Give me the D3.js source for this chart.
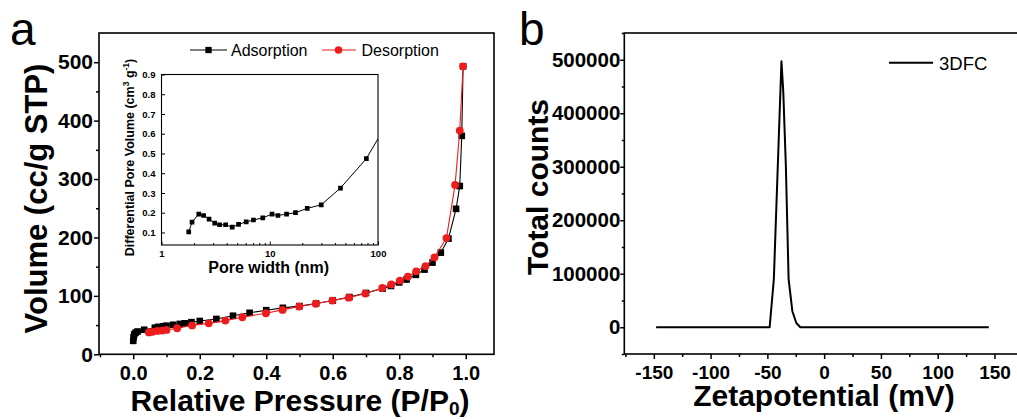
<!DOCTYPE html>
<html><head><meta charset="utf-8">
<script src="https://cdn.jsdelivr.net/npm/d3@7"></script>
<style>
body{margin:0;background:#fff;}
svg{font-family:"Liberation Sans",Arial,sans-serif;display:block;}
</style></head><body>
<svg id="c" width="1017" height="420"></svg>
<script>
// ---------- data ----------
const adsP = [0.000,0.001,0.003,0.007,0.013,0.033,0.065,0.075,0.09,0.10,0.12,0.14,0.155,0.175,0.20,0.25,0.30,0.35,0.40,0.45,0.50,0.55,0.60,0.65,0.70,0.75,0.775,0.80,0.822,0.85,0.876,0.90,0.925,0.948,0.971,0.982,0.988,0.992];
const adsV = [23,29,34,37,39,42,45.5,47,48,49,50.5,52,53,55,57,60.5,66,71,75.5,79.5,82.5,87,92,98,105,112.5,117,123,128,136,145,157,174,198,249,288,374,493];
const desP = [0.992,0.982,0.968,0.942,0.906,0.879,0.851,0.826,0.802,0.776,0.749,0.698,0.648,0.599,0.549,0.499,0.449,0.399,0.328,0.277,0.227,0.177,0.132,0.10,0.087,0.072,0.058,0.047];
const desV = [493,383,290,199,166,151,142,133,126,119.5,113.5,104,97,92,86.5,81.7,76,70.3,63.4,57.7,53,49.5,44.6,41.7,40.6,40,38.5,37.5];

const poreW = [1.785,1.915,2.21,2.45,2.75,3.10,3.44,3.91,4.50,5.15,6.06,7.07,8.62,10.5,11.9,14.3,17.3,22.2,29.9,45.0,78.1,100];
const poreV = [0.103,0.152,0.193,0.186,0.168,0.147,0.139,0.139,0.127,0.141,0.154,0.163,0.174,0.193,0.186,0.193,0.200,0.222,0.240,0.325,0.474,0.575];

const zetaX = [-148,-48,-44.3,-37.6,-36,-33.7,-31.3,-28,-24.5,-21,145];
const zetaC = [0,0,90000,497000,440000,300000,90000,30000,8000,0,0];

const isoXTicks = [0,0.2,0.4,0.6,0.8,1.0];
const isoXMinor = [-0.1,0.1,0.3,0.5,0.7,0.9];
const isoYTicks = [0,100,200,300,400,500];
const isoYMinor = [50,150,250,350,450];
const poreXTicks = [1,10,100];
const poreXMinor = [2,3,4,5,6,7,8,9,20,30,40,50,60,70,80,90];
const poreYTicks = [0.1,0.2,0.3,0.4,0.5,0.6,0.7,0.8,0.9];
const zetaXTicks = [-150,-100,-50,0,50,100,150];
const zetaXMinor = [-175,-125,-75,-25,25,75,125,175];
const zetaYTicks = [0,100000,200000,300000,400000,500000];
const zetaYMinor = [-50000,50000,150000,250000,350000,450000,550000];

const legendA = ["Adsorption","Desorption"];
const legendB = ["3DFC"];

// ---------- drawing ----------
const FONT = '"Liberation Sans", Arial, sans-serif';
const RED = "#ee1c1c";
const svg = d3.select("#c");
const plain = d => String(d);

function styleAxis(g, fs, weight, sw){
  g.select(".domain").remove();
  g.selectAll("line").attr("stroke","#000").attr("stroke-width",sw);
  g.selectAll("text").attr("font-size",fs).attr("font-weight",weight)
    .attr("font-family",FONT).attr("fill","#000");
}

// ===== Panel a =====
const xA = d3.scaleLinear().domain([-0.103,1.085]).range([99,494]);
const yA = d3.scaleLinear().domain([0,550]).range([354.3,33]);
const gA = svg.append("g");

gA.append("g").attr("transform",`translate(0,${yA.range()[0]})`)
  .call(d3.axisBottom(xA).tickValues(isoXTicks).tickSize(5).tickPadding(7).tickFormat(d3.format(".1f")))
  .call(g=>styleAxis(g,20,"bold",1.5));
gA.append("g").attr("transform",`translate(0,${yA.range()[0]})`)
  .call(d3.axisBottom(xA).tickValues(isoXMinor).tickSize(3).tickFormat(""))
  .call(g=>styleAxis(g,20,"bold",1.5));
gA.append("g").attr("transform",`translate(${xA.range()[0]},0)`)
  .call(d3.axisLeft(yA).tickValues(isoYTicks).tickSize(5).tickPadding(1).tickFormat(plain))
  .call(g=>styleAxis(g,21,"bold",1.5));
gA.append("g").attr("transform",`translate(${xA.range()[0]},0)`)
  .call(d3.axisLeft(yA).tickValues(isoYMinor).tickSize(3).tickFormat(""))
  .call(g=>styleAxis(g,21,"bold",1.5));

gA.append("rect").attr("x",xA.range()[0]).attr("y",yA.range()[1])
  .attr("width",xA.range()[1]-xA.range()[0]).attr("height",yA.range()[0]-yA.range()[1])
  .attr("fill","none").attr("stroke","#000").attr("stroke-width",1.6);

const adsData = d3.zip(adsP,adsV), desData = d3.zip(desP,desV);
const lineA = d3.line().x(d=>xA(d[0])).y(d=>yA(d[1]));
gA.append("path").attr("d",lineA(adsData)).attr("fill","none").attr("stroke","#000").attr("stroke-width",1.1);
gA.selectAll(".ads").data(adsData).join("path").attr("class","ads")
  .attr("transform",d=>`translate(${xA(d[0])},${yA(d[1])})`)
  .attr("d",d3.symbol(d3.symbolSquare,44)).attr("fill","#000");
gA.append("path").attr("d",lineA(desData)).attr("fill","none").attr("stroke",RED).attr("stroke-width",1.1);
gA.selectAll(".des").data(desData).join("circle").attr("class","des")
  .attr("cx",d=>xA(d[0])).attr("cy",d=>yA(d[1])).attr("r",3.9).attr("fill",RED);

// legend a
const legA = gA.append("g");
legA.append("line").attr("x1",190).attr("x2",227).attr("y1",50).attr("y2",50).attr("stroke","#000").attr("stroke-width",1.1);
legA.append("path").attr("transform","translate(208.5,50)").attr("d",d3.symbol(d3.symbolSquare,40)).attr("fill","#000");
legA.append("text").attr("x",231).attr("y",55.5).attr("font-size",16).text(legendA[0]);
legA.append("line").attr("x1",322).attr("x2",356).attr("y1",50).attr("y2",50).attr("stroke",RED).attr("stroke-width",1.1);
legA.append("circle").attr("cx",338.5).attr("cy",50).attr("r",3.8).attr("fill",RED);
legA.append("text").attr("x",361.5).attr("y",55.5).attr("font-size",16).text(legendA[1]);

// titles a
gA.append("text").attr("x",10).attr("y",45).attr("font-size",46).text("a");
const xtA = gA.append("text").attr("x",300).attr("y",411).attr("text-anchor","middle")
  .attr("font-size",30).attr("font-weight","bold");
xtA.append("tspan").text("Relative Pressure (P/P");
xtA.append("tspan").attr("font-size",19).attr("dy",4).text("0");
xtA.append("tspan").attr("dy",-4).text(")");
gA.append("text").attr("transform","translate(47,198.5) rotate(-90)").attr("text-anchor","middle")
  .attr("font-size",31).attr("font-weight","bold").text("Volume (cc/g STP)");

// ===== inset =====
const xI = d3.scaleLog().domain([1,100]).range([161.5,378]);
const yI = d3.scaleLinear().domain([0.0365,0.9]).range([245,74.5]);
const gI = svg.append("g");
gI.append("rect").attr("x",xI.range()[0]).attr("y",yI.range()[1])
  .attr("width",xI.range()[1]-xI.range()[0]).attr("height",yI.range()[0]-yI.range()[1])
  .attr("fill","#fff");
gI.append("g").attr("transform",`translate(0,${yI.range()[0]})`)
  .call(d3.axisBottom(xI).tickValues(poreXTicks).tickSize(-3.5).tickPadding(5.5).tickFormat(plain))
  .call(g=>styleAxis(g,9.5,"bold",1));
gI.append("g").attr("transform",`translate(0,${yI.range()[0]})`)
  .call(d3.axisBottom(xI).tickValues(poreXMinor).tickSize(-2).tickFormat(""))
  .call(g=>styleAxis(g,9.5,"bold",1));
gI.append("g").attr("transform",`translate(${xI.range()[0]},0)`)
  .call(d3.axisLeft(yI).tickValues(poreYTicks).tickSize(-3.5).tickPadding(6).tickFormat(d3.format(".1f")))
  .call(g=>styleAxis(g,9.5,"bold",1));
gI.append("rect").attr("x",xI.range()[0]).attr("y",yI.range()[1])
  .attr("width",xI.range()[1]-xI.range()[0]).attr("height",yI.range()[0]-yI.range()[1])
  .attr("fill","none").attr("stroke","#000").attr("stroke-width",1.1);
svg.append("clipPath").attr("id","clipI").append("rect")
  .attr("x",xI.range()[0]).attr("y",yI.range()[1])
  .attr("width",xI.range()[1]-xI.range()[0]).attr("height",yI.range()[0]-yI.range()[1]);
const poreData = d3.zip(poreW,poreV);
const gIc = gI.append("g").attr("clip-path","url(#clipI)");
gIc.append("path").attr("d",d3.line().x(d=>xI(d[0])).y(d=>yI(d[1]))(poreData))
  .attr("fill","none").attr("stroke","#000").attr("stroke-width",1);
gIc.selectAll(".pm").data(poreData.slice(0,-1)).join("path").attr("class","pm")
  .attr("transform",d=>`translate(${xI(d[0])},${yI(d[1])})`)
  .attr("d",d3.symbol(d3.symbolSquare,22)).attr("fill","#000");
gI.append("text").attr("x",268.7).attr("y",273).attr("text-anchor","middle")
  .attr("font-size",16).attr("font-weight","bold").text("Pore width (nm)");
const ytI = gI.append("text").attr("transform","translate(134,157.5) rotate(-90)").attr("text-anchor","middle")
  .attr("font-size",12.5).attr("font-weight","bold");
ytI.append("tspan").text("Differential Pore Volume (cm");
ytI.append("tspan").attr("font-size",8.5).attr("dy",-5).text("3");
ytI.append("tspan").attr("dy",5).text(" g");
ytI.append("tspan").attr("font-size",8.5).attr("dy",-5).text("-1");
ytI.append("tspan").attr("dy",5).text(")");

// ===== Panel b =====
const xB = d3.scaleLinear().domain([-176,176]).range([624.3,1024]);
const yB = d3.scaleLinear().domain([-50000,550000]).range([354,33]);
const gB = svg.append("g");
gB.append("g").attr("transform",`translate(0,${yB.range()[0]})`)
  .call(d3.axisBottom(xB).tickValues(zetaXTicks).tickSize(5).tickPadding(7).tickFormat(plain))
  .call(g=>styleAxis(g,19,"bold",1.5));
gB.append("g").attr("transform",`translate(0,${yB.range()[0]})`)
  .call(d3.axisBottom(xB).tickValues(zetaXMinor).tickSize(3).tickFormat(""))
  .call(g=>styleAxis(g,19,"bold",1.5));
gB.append("g").attr("transform",`translate(${xB.range()[0]},0)`)
  .call(d3.axisLeft(yB).tickValues(zetaYTicks).tickSize(4).tickPadding(0).tickFormat(plain))
  .call(g=>styleAxis(g,20.5,"bold",1.5));
gB.append("g").attr("transform",`translate(${xB.range()[0]},0)`)
  .call(d3.axisLeft(yB).tickValues(zetaYMinor).tickSize(2.5).tickFormat(""))
  .call(g=>styleAxis(g,20.5,"bold",1.5));
gB.append("rect").attr("x",xB.range()[0]).attr("y",yB.range()[1])
  .attr("width",xB.range()[1]-xB.range()[0]).attr("height",yB.range()[0]-yB.range()[1])
  .attr("fill","none").attr("stroke","#000").attr("stroke-width",1.6);
const zetaData = d3.zip(zetaX,zetaC);
gB.append("path").attr("d",d3.line().x(d=>xB(d[0])).y(d=>yB(d[1]))(zetaData))
  .attr("fill","none").attr("stroke","#000").attr("stroke-width",2).attr("stroke-linejoin","round");
gB.append("line").attr("x1",889).attr("x2",933).attr("y1",62.7).attr("y2",62.7).attr("stroke","#000").attr("stroke-width",2);
gB.append("text").attr("x",939).attr("y",69.5).attr("font-size",18.5).text(legendB[0]);
gB.append("text").attr("x",519).attr("y",45).attr("font-size",46).text("b");
gB.append("text").attr("x",824).attr("y",406).attr("text-anchor","middle")
  .attr("font-size",30).attr("font-weight","bold").text("Zetapotential (mV)");
gB.append("text").attr("transform","translate(548,187) rotate(-90)").attr("text-anchor","middle")
  .attr("font-size",30).attr("font-weight","bold").text("Total counts");
</script>
</body></html>
